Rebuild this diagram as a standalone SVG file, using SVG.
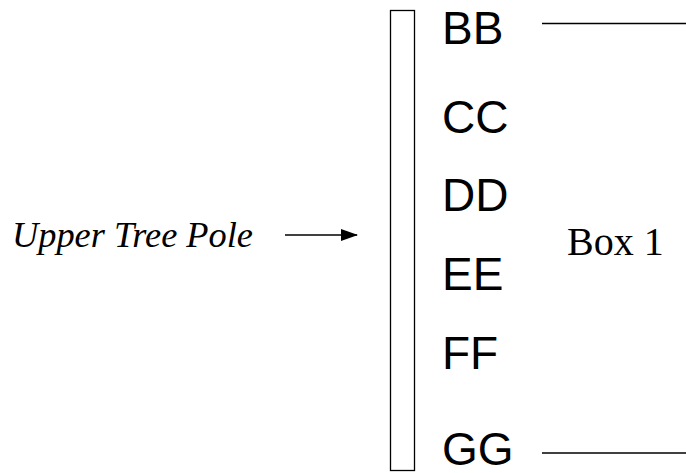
<svg xmlns="http://www.w3.org/2000/svg" width="686" height="473" viewBox="0 0 686 473">
<defs>
<style>
.lbl{font-family:"Liberation Sans",Arial,sans-serif;font-size:46px;fill:#000}
.serif{font-family:"Liberation Serif","Times New Roman",serif;fill:#000}
.ln{stroke:#000;stroke-width:1.5;fill:none}
</style>
<marker id="ah" markerWidth="17" markerHeight="12" refX="16" refY="6" orient="auto" markerUnits="userSpaceOnUse">
<path d="M0,0 L17,6 L0,12 Z" fill="#000"/>
</marker>
</defs>
<rect width="686" height="473" fill="#fff"/>
<g id="pole">
<rect x="390.5" y="10.5" width="24" height="460" fill="#fff" stroke="#000" stroke-width="1.3"/>
</g>
<g id="upper-tree-pole">
<text class="serif" x="12" y="247" font-size="36" font-style="italic" textLength="241" lengthAdjust="spacingAndGlyphs">Upper Tree Pole</text>
</g>
<g id="bb"><text class="lbl" x="442" y="44">BB</text></g>
<g id="cc"><text class="lbl" x="442" y="133">CC</text></g>
<g id="dd"><text class="lbl" x="442" y="211">DD</text></g>
<g id="ee"><text class="lbl" x="442" y="290">EE</text></g>
<g id="ff"><text class="lbl" x="442" y="369">FF</text></g>
<g id="gg"><text class="lbl" x="442" y="465">GG</text></g>
<g id="box1"><text class="serif" x="567" y="255" font-size="40">Box 1</text></g>
<g id="connectors">
<line class="ln" x1="285" y1="235" x2="357" y2="235" stroke-width="2" marker-end="url(#ah)"/>
<line class="ln" x1="542" y1="23.5" x2="686" y2="23.5"/>
<line class="ln" x1="542" y1="453" x2="686" y2="453"/>
</g>
</svg>
